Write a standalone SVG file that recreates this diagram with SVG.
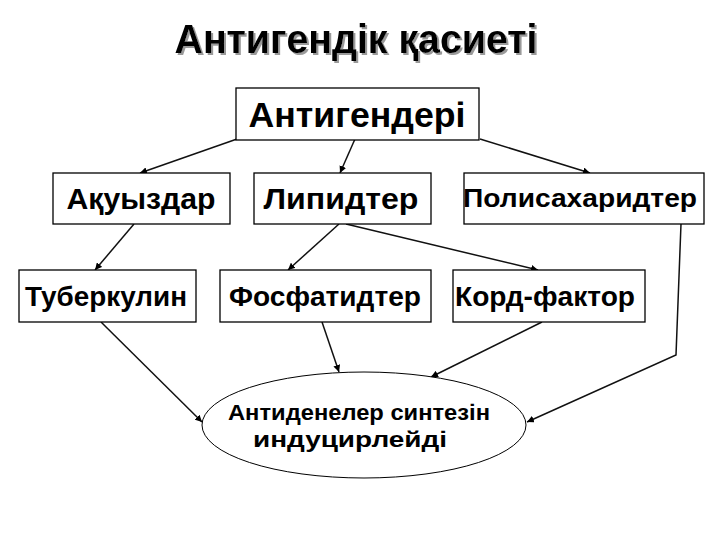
<svg xmlns="http://www.w3.org/2000/svg" width="720" height="540" viewBox="0 0 720 540">
<defs>
<style>
.t{font-family:"Liberation Sans",Arial,sans-serif;font-weight:bold;fill:#000;text-anchor:middle}
.box{fill:#fff;stroke:#000;stroke-width:1.3}
.c{fill:none;stroke:#111;stroke-width:1.5}
</style>
<filter id="shadow" x="-5%" y="-20%" width="110%" height="140%">
<feDropShadow dx="2" dy="2" stdDeviation="0.4" flood-color="#9a9a9a" flood-opacity="1"/>
</filter>
<marker id="ah" viewBox="0 0 10 10" refX="10" refY="5" markerWidth="7" markerHeight="7" markerUnits="userSpaceOnUse" orient="auto">
<path d="M0,0 L10,5 L0,10 z" fill="#000"/>
</marker>
</defs>
<rect width="720" height="540" fill="#fff"/>
<g id="title">
<text class="t" x="356" y="53" font-size="40" filter="url(#shadow)" textLength="363" lengthAdjust="spacingAndGlyphs">Антигендік қасиеті</text>
</g>
<g id="connectors">
<line class="c" x1="237" y1="139" x2="140" y2="173" marker-end="url(#ah)"/>
<line class="c" x1="355" y1="139" x2="340" y2="173" marker-end="url(#ah)"/>
<line class="c" x1="480" y1="139" x2="590" y2="173" marker-end="url(#ah)"/>
<line class="c" x1="134" y1="224" x2="95" y2="270" marker-end="url(#ah)"/>
<line class="c" x1="339" y1="224" x2="288" y2="270" marker-end="url(#ah)"/>
<line class="c" x1="346" y1="224" x2="538" y2="270" marker-end="url(#ah)"/>
<polyline class="c" points="681,224 676,355 527,422" marker-end="url(#ah)"/>
<line class="c" x1="101" y1="322" x2="202" y2="422" marker-end="url(#ah)"/>
<line class="c" x1="322" y1="322" x2="339" y2="372" marker-end="url(#ah)"/>
<line class="c" x1="542" y1="322" x2="431" y2="377" marker-end="url(#ah)"/>
</g>
<g id="antigenderi">
<rect class="box" x="236" y="88" width="243" height="52"/>
<text class="t" x="357" y="127" font-size="35" textLength="217" lengthAdjust="spacingAndGlyphs">Антигендері</text>
</g>
<g id="akuyzdar">
<rect class="box" x="53" y="173" width="177" height="51"/>
<text class="t" x="141" y="209" font-size="30" textLength="149" lengthAdjust="spacingAndGlyphs">Ақуыздар</text>
</g>
<g id="lipidter">
<rect class="box" x="254" y="173" width="177" height="51"/>
<text class="t" x="341" y="209" font-size="30" textLength="155" lengthAdjust="spacingAndGlyphs">Липидтер</text>
</g>
<g id="polisaharidter">
<rect class="box" x="464" y="173" width="240" height="51"/>
<text class="t" x="580" y="207" font-size="26" textLength="234" lengthAdjust="spacingAndGlyphs">Полисахаридтер</text>
</g>
<g id="tuberkulin">
<rect class="box" x="19" y="270" width="177" height="52"/>
<text class="t" x="106" y="306" font-size="28" textLength="162" lengthAdjust="spacingAndGlyphs">Туберкулин</text>
</g>
<g id="fosfatidter">
<rect class="box" x="220" y="270" width="211" height="52"/>
<text class="t" x="325" y="306" font-size="28" textLength="192" lengthAdjust="spacingAndGlyphs">Фосфатидтер</text>
</g>
<g id="kordfaktor">
<rect class="box" x="453" y="270" width="192" height="52"/>
<text class="t" x="545" y="306" font-size="28" textLength="180" lengthAdjust="spacingAndGlyphs">Корд-фактор</text>
</g>
<g id="antidene">
<ellipse cx="364" cy="425" rx="162" ry="53" fill="#fff" stroke="#000" stroke-width="1"/>
<text class="t" x="359" y="420" font-size="22" textLength="262" lengthAdjust="spacingAndGlyphs">Антиденелер синтезін</text>
<text class="t" x="350" y="447" font-size="22" textLength="194" lengthAdjust="spacingAndGlyphs">индуцирлейді</text>
</g>
</svg>
